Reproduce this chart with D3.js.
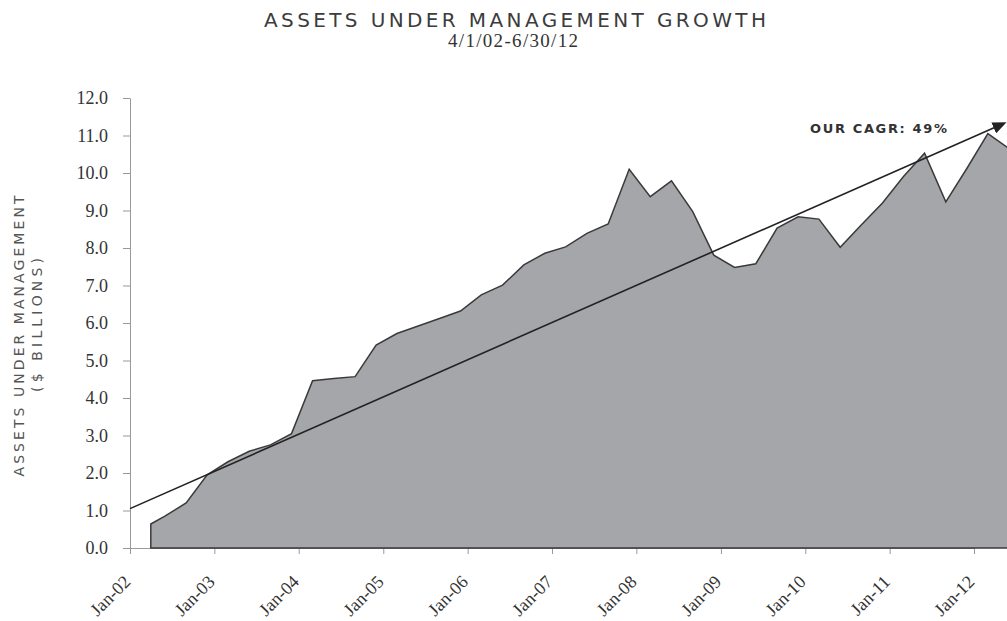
<!DOCTYPE html>
<html>
<head>
<meta charset="utf-8">
<script src="https://cdn.jsdelivr.net/npm/d3@7"></script>
<style>
  body { margin: 0; background: #fff; }
</style>
</head>
<body>
<div id="chart"></div>
<script>
// quarter points (Excel date axis puts them on the month slot)
var quarters = ["2002-04", "2002-06", "2002-09", "2002-12",
    "2003-03", "2003-06", "2003-09", "2003-12",
    "2004-03", "2004-06", "2004-09", "2004-12",
    "2005-03", "2005-06", "2005-09", "2005-12",
    "2006-03", "2006-06", "2006-09", "2006-12",
    "2007-03", "2007-06", "2007-09", "2007-12",
    "2008-03", "2008-06", "2008-09", "2008-12",
    "2009-03", "2009-06", "2009-09", "2009-12",
    "2010-03", "2010-06", "2010-09", "2010-12",
    "2011-03", "2011-06", "2011-09", "2011-12",
    "2012-03", "2012-06"];

var aum = [0.64, 0.85, 1.2, 1.95,
    2.3, 2.58, 2.75, 3.05,
    4.46, 4.52, 4.57, 5.41,
    5.72, 5.92, 6.12, 6.32,
    6.75, 7.01, 7.55, 7.86,
    8.03, 8.39, 8.64, 10.1,
    9.37, 9.79, 8.97, 7.81,
    7.48, 7.58, 8.53, 8.83,
    8.77, 8.02, 8.62, 9.2,
    9.9, 10.53, 9.23, 10.12,
    11.05, 10.65];

var yearTicks = ["Jan-02", "Jan-03", "Jan-04", "Jan-05", "Jan-06", "Jan-07",
    "Jan-08", "Jan-09", "Jan-10", "Jan-11", "Jan-12"];
var valueTicks = [0, 1, 2, 3, 4, 5, 6, 7, 8, 9, 10, 11, 12];

var trendDates = ["2002-01", "2012-05"];
var trendValues = [1.05, 11.3];

var title = "ASSETS UNDER MANAGEMENT GROWTH";
var subtitle = "4/1/02-6/30/12";
var yTitle = ["ASSETS UNDER MANAGEMENT", "($ BILLIONS)"];
var cagrLabel = "OUR CAGR: 49%";

function init() {
    var w = 1007, h = 621;
    var parseMonth = d3.timeParse("%Y-%m");
    var parseTick = d3.timeParse("%b-%y");

    var dataset = quarters.map(function(q, i) {
        return { date: parseMonth(q), value: aum[i] };
    });
    var trend = trendDates.map(function(t, i) {
        return { date: parseMonth(t), value: trendValues[i] };
    });

    var xScale = d3.scaleTime()
        .domain([parseMonth("2002-01"), parseMonth("2012-01")])
        .range([130, 974]);

    var yScale = d3.scaleLinear()
        .domain([0, 12])
        .range([548, 98]);

    var svg = d3.select("#chart")
        .append("svg")
        .attr("width", w)
        .attr("height", h);

    svg.append("defs").append("marker")
        .attr("id", "arrow")
        .attr("viewBox", "0 0 14 12")
        .attr("markerUnits", "userSpaceOnUse")
        .attr("markerWidth", 14)
        .attr("markerHeight", 12)
        .attr("refX", 9)
        .attr("refY", 6)
        .attr("orient", "auto")
        .append("path")
        .attr("d", "M0,0 L14,6 L0,12 Z")
        .attr("fill", "#222");

    // y axis
    var yAxis = svg.append("g")
        .attr("transform", "translate(130,0)")
        .call(d3.axisLeft(yScale)
            .tickValues(valueTicks)
            .tickSize(7)
            .tickSizeOuter(0)
            .tickPadding(15)
            .tickFormat(d3.format(".1f")));
    yAxis.select(".domain").attr("stroke", "#999");
    yAxis.selectAll(".tick line").attr("stroke", "#999");
    yAxis.selectAll("text")
        .attr("fill", "#333")
        .style("font-family", "'Liberation Serif', serif")
        .style("font-size", "18px");

    // x axis
    var xAxis = svg.append("g")
        .attr("transform", "translate(0,548)")
        .call(d3.axisBottom(xScale)
            .tickValues(yearTicks.map(parseTick))
            .tickSize(6)
            .tickSizeOuter(0)
            .tickFormat(d3.timeFormat("%b-%y")));
    xAxis.select(".domain").attr("stroke", "#999");
    xAxis.selectAll(".tick line").attr("stroke", "#999");
    xAxis.selectAll("text")
        .attr("x", 0)
        .attr("y", 0)
        .attr("dy", null)
        .attr("transform", "translate(1,35) rotate(-45)")
        .style("text-anchor", "end")
        .attr("fill", "#333")
        .style("font-family", "'Liberation Serif', serif")
        .style("font-size", "18px");

    var area = d3.area()
        .x(d => xScale(d.date))
        .y0(yScale(0))
        .y1(d => yScale(d.value));

    svg.append("path")
        .datum(dataset)
        .attr("d", area)
        .attr("fill", "#a5a6a9")
        .attr("stroke", "#3a3a3a")
        .attr("stroke-width", 1.5);

    var line = d3.line()
        .x(d => xScale(d.date))
        .y(d => yScale(d.value));

    svg.append("path")
        .datum(trend)
        .attr("d", line)
        .attr("fill", "none")
        .attr("stroke", "#222")
        .attr("stroke-width", 1.6)
        .attr("marker-end", "url(#arrow)");

    svg.append("text")
        .attr("x", 810)
        .attr("y", 133)
        .attr("textLength", 137)
        .attr("lengthAdjust", "spacing")
        .attr("fill", "#333")
        .style("font-family", "'DejaVu Sans', sans-serif")
        .style("font-weight", "bold")
        .style("font-size", "13px")
        .text(cagrLabel);

    // titles
    svg.append("text")
        .attr("x", 515)
        .attr("y", 27)
        .attr("textLength", 502)
        .attr("lengthAdjust", "spacing")
        .style("text-anchor", "middle")
        .attr("fill", "#3c3c3c")
        .style("font-family", "'DejaVu Sans', sans-serif")
        .style("font-size", "20px")
        .text(title);

    svg.append("text")
        .attr("x", 513)
        .attr("y", 47)
        .attr("textLength", 130)
        .attr("lengthAdjust", "spacing")
        .style("text-anchor", "middle")
        .attr("fill", "#333")
        .style("font-family", "'Liberation Serif', serif")
        .style("font-size", "19px")
        .text(subtitle);

    svg.append("text")
        .attr("transform", "translate(24,336) rotate(-90)")
        .attr("textLength", 281)
        .attr("lengthAdjust", "spacing")
        .style("text-anchor", "middle")
        .attr("fill", "#555")
        .style("font-family", "'DejaVu Sans', sans-serif")
        .style("font-size", "14px")
        .text(yTitle[0]);

    svg.append("text")
        .attr("transform", "translate(42,325) rotate(-90)")
        .attr("textLength", 134)
        .attr("lengthAdjust", "spacing")
        .style("text-anchor", "middle")
        .attr("fill", "#555")
        .style("font-family", "'DejaVu Sans', sans-serif")
        .style("font-size", "14px")
        .text(yTitle[1]);
}

window.onload = init;
</script>
</body>
</html>
